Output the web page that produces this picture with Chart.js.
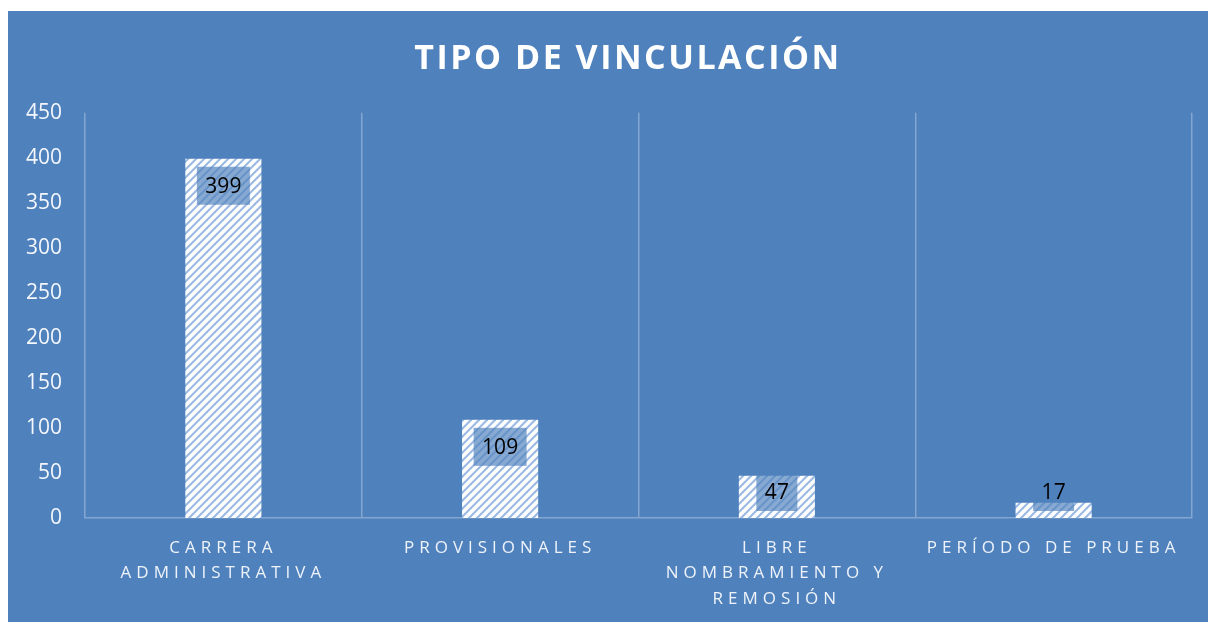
<!DOCTYPE html>
<html>
<head>
<meta charset="utf-8">
<script src="https://cdn.jsdelivr.net/npm/chart.js@4.4.1/dist/chart.umd.min.js"></script>
<style>
    html, body { margin: 0; padding: 0; background: #ffffff; overflow: hidden; }
    #caja { position: absolute; left: 8px; top: 11px; width: 1240px; height: 611px; background: rgb(79,129,189); }
</style>
</head>
<body>
<div id="caja"><canvas id="vinculacion"></canvas></div>
<script>
const categorias = [
    ["CARRERA", "ADMINISTRATIVA"],
    "PROVISIONALES",
    ["LIBRE", "NOMBRAMIENTO Y", "REMOSIÓN"],
    "PERÍODO DE PRUEBA",
];
const cantidades = [399, 109, 47, 17];
const ejeY = { min: 0, max: 450, paso: 50 };
const titulo = "TIPO DE VINCULACIÓN";

const linea = "rgba(255,255,255,0.3)";

function rayado() {
    const c = document.createElement("canvas");
    c.width = 8;
    c.height = 8;
    const g = c.getContext("2d");
    g.fillStyle = "#ffffff";
    g.fillRect(0, 0, 8, 8);
    g.strokeStyle = "#9dbbe4";
    g.lineWidth = 2.2;
    [[-4, 4, 4, -4], [0, 8, 8, 0], [4, 12, 12, 4]].forEach(([a, b, c2, d]) => {
        g.beginPath();
        g.moveTo(a, b);
        g.lineTo(c2, d);
        g.stroke();
    });
    return g.createPattern(c, "repeat");
}

// letter spacing for title and category labels (title also nudged to the full-box centre)
const espaciado = {
    id: "espaciado",
    afterLayout(chart) {
        const envolver = (obj, nombre, valor, dx) => {
            if (!obj || obj["_env_" + nombre]) return;
            const orig = obj[nombre];
            obj[nombre] = function (...args) {
                const ctx = chart.ctx;
                ctx.save();
                ctx.letterSpacing = valor;
                ctx.translate(dx, 0);
                orig.apply(this, args);
                ctx.restore();
            };
            obj["_env_" + nombre] = true;
        };
        envolver(chart.titleBlock, "draw", "2.5px", 19);
        envolver(chart.scales.x, "drawLabels", "5px", 0);
    },
};

// boxed value labels, Excel style
const etiquetas = {
    id: "etiquetas",
    afterDatasetsDraw(chart) {
        const ctx = chart.ctx;
        const meta = chart.getDatasetMeta(0);
        ctx.save();
        ctx.font = "21px 'Open Sans'";
        ctx.textAlign = "center";
        ctx.textBaseline = "middle";
        meta.data.forEach((bar, i) => {
            const texto = String(cantidades[i]);
            const w = ctx.measureText(texto).width + 17;
            const h = 38;
            const cy = Math.min(bar.y + 27, bar.base - 26);
            ctx.fillStyle = "rgba(79,129,189,0.68)";
            ctx.fillRect(bar.x - w / 2, cy - h / 2, w, h);
            ctx.fillStyle = "#000000";
            ctx.fillText(texto, bar.x, cy + 1);
        });
        ctx.restore();
    },
};

new Chart(document.getElementById("vinculacion"), {
    type: "bar",
    data: {
        labels: categorias,
        datasets: [
            {
                data: cantidades,
                backgroundColor: rayado(),
                borderWidth: 0,
                categoryPercentage: 1,
                barPercentage: 0.275,
            },
        ],
    },
    options: {
        responsive: true,
        maintainAspectRatio: false,
        animation: false,
        layout: {
            padding: { left: 18, right: 56, top: 0, bottom: 8 },
        },
        plugins: {
            legend: { display: false },
            tooltip: { enabled: false },
            title: {
                display: true,
                text: titulo,
                color: "#ffffff",
                font: { family: "'Open Sans'", size: 34, weight: "bold", lineHeight: 1.2 },
                padding: { top: 28, bottom: 33 },
            },
        },
        scales: {
            x: {
                grid: { display: true, color: linea, lineWidth: 1.5, drawTicks: false, offset: true },
                border: { display: true, color: linea, width: 1.5 },
                ticks: {
                    color: "#eef3fa",
                    font: { family: "'Open Sans'", size: 17, lineHeight: 1.5 },
                    padding: 17,
                    maxRotation: 0,
                    autoSkip: false,
                },
                afterFit(scale) {
                    scale.height = 96;
                    scale.paddingLeft = 0;
                    scale.paddingRight = 0;
                },
            },
            y: {
                min: ejeY.min,
                max: ejeY.max,
                grid: { display: false, drawTicks: false },
                border: { display: false },
                ticks: {
                    stepSize: ejeY.paso,
                    color: "#f4f7fb",
                    font: { family: "'Open Sans'", size: 21 },
                    padding: 23,
                },
                afterFit(scale) {
                    scale.width = 59;
                },
            },
        },
    },
    plugins: [espaciado, etiquetas],
});
</script>
</body>
</html>
